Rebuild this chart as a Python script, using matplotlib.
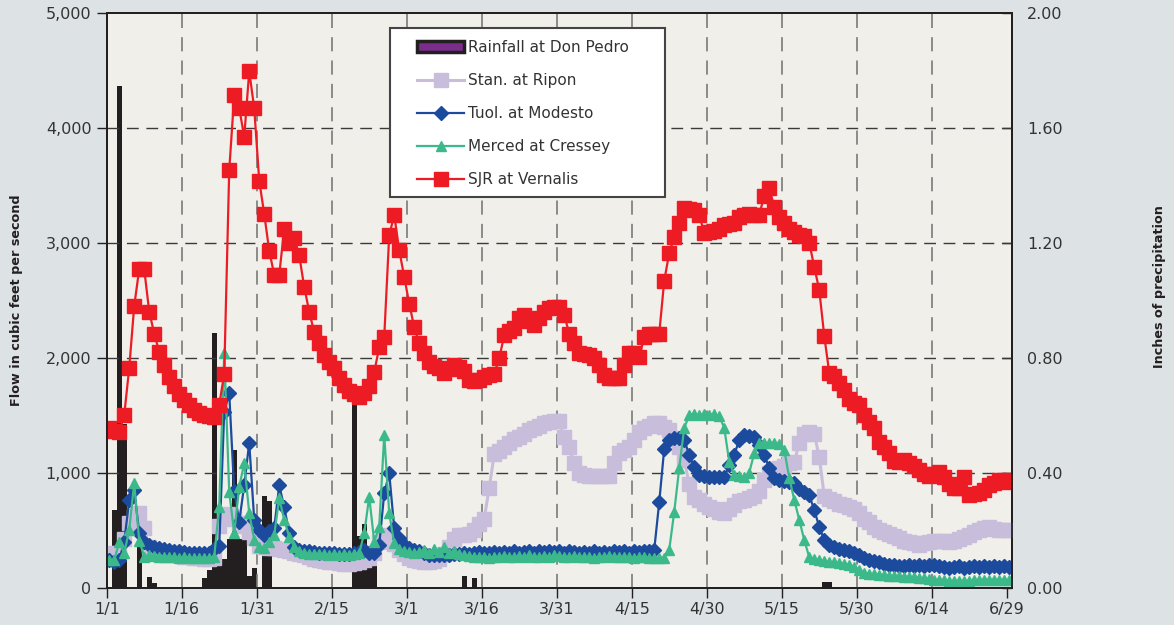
import numpy as np
import matplotlib
matplotlib.use("Agg")
import matplotlib.pyplot as plt
from matplotlib.patches import Patch, Rectangle
from matplotlib.lines import Line2D

# ---------------- data (daily, 1/1 .. 6/29) ----------------
tick_labels = ["1/1", "1/16", "1/31", "2/15", "3/1", "3/16", "3/31",
               "4/15", "4/30", "5/15", "5/30", "6/14", "6/29"]

rain = [0, 0.27, 1.745, 0.57, 0, 0, 0.14, 0, 0.037, 0.017,
        0, 0, 0, 0, 0, 0, 0, 0, 0, 0.034,
        0.06, 0.885, 0.08, 0.10, 0.17, 0.48, 0.17, 0.17, 0.04, 0.07,
        0, 0.32, 0.30, 0, 0, 0, 0, 0, 0, 0,
        0, 0, 0, 0, 0, 0, 0, 0, 0, 0.68,
        0.18, 0.22, 0.11, 0.11, 0, 0, 0, 0, 0, 0,
        0, 0, 0, 0, 0, 0, 0, 0, 0, 0,
        0, 0.04, 0, 0.033, 0, 0, 0, 0, 0, 0,
        0, 0, 0, 0, 0, 0, 0, 0, 0, 0,
        0, 0, 0, 0, 0, 0, 0, 0, 0, 0,
        0, 0, 0, 0, 0, 0, 0, 0, 0, 0,
        0, 0, 0, 0, 0, 0, 0, 0, 0, 0,
        0, 0, 0, 0, 0, 0, 0, 0, 0, 0,
        0, 0, 0, 0, 0, 0, 0, 0, 0, 0,
        0, 0, 0, 0.02, 0.02, 0, 0, 0, 0, 0,
        0, 0, 0, 0, 0, 0, 0, 0, 0, 0,
        0, 0, 0, 0, 0, 0, 0, 0, 0, 0,
        0, 0, 0, 0, 0, 0, 0, 0, 0, 0,
        0]

stan = [300, 280, 300, 420, 560, 620, 650, 520, 350, 330,
        320, 310, 300, 290, 280, 270, 265, 260, 255, 250,
        250, 260, 540, 620, 640, 600, 560, 540, 480, 430,
        360, 350, 345, 345, 340, 330, 320, 300, 290, 280,
        265, 250, 240, 230, 225, 220, 215, 210, 210, 215,
        225, 240, 260, 300, 400, 460, 430, 380, 330, 290,
        260, 240, 230, 225, 225, 230, 250, 290, 350, 420,
        460, 460, 470, 500, 550, 600, 870, 1160, 1190, 1220,
        1260, 1290, 1310, 1340, 1370, 1390, 1410, 1430, 1440, 1450,
        1450, 1310, 1220, 1080, 1000, 980, 970, 970, 970, 970,
        975, 1080, 1175, 1200, 1225, 1285, 1350, 1390, 1410, 1430,
        1430, 1400, 1370, 1300, 1225, 1110, 900, 790, 765, 730,
        700, 680, 660, 650, 680, 720, 750, 760, 780, 800,
        845, 935, 1000, 1020, 1040, 1060, 1080, 1090, 1260, 1340,
        1350, 1340, 1135, 800, 770, 750, 730, 720, 700, 680,
        650, 600, 570, 530, 500, 480, 470, 450, 430, 410,
        400, 390, 370, 390, 400, 410, 410, 410, 400, 410,
        420, 440, 460, 480, 500, 520, 525, 510, 500, 500,
        500]

tuol = [240, 220, 240, 400, 760, 850, 475, 400, 370, 355,
        345, 335, 330, 320, 315, 310, 305, 300, 300, 300,
        305, 340, 360, 1530, 1690, 840, 575, 890, 1260, 590,
        500, 460, 490, 520, 890, 700, 475, 355, 330, 320,
        315, 310, 305, 300, 300, 300, 295, 290, 290, 300,
        310, 328, 300, 300, 371, 821, 995, 517, 430, 370,
        345, 330, 320, 300, 285, 280, 280, 280, 285, 290,
        295, 300, 295, 300, 310, 300, 305, 310, 300, 310,
        305, 315, 305, 310, 320, 305, 315, 310, 320, 310,
        320, 305, 315, 310, 300, 310, 305, 315, 300, 310,
        305, 315, 310, 320, 305, 315, 310, 320, 320, 330,
        745, 1210, 1285, 1300, 1300, 1285, 1155, 1050, 980, 970,
        960, 960, 960, 960, 1065, 1155, 1285, 1330, 1320, 1310,
        1240, 1155, 1040, 955, 935, 930, 920, 910, 860, 830,
        805, 675, 530, 415, 370, 350, 340, 330, 320, 300,
        280, 260, 240, 230, 220, 210, 200, 195, 190, 190,
        195, 190, 200, 190, 195, 200, 190, 180, 175, 180,
        185, 175, 180, 185, 180, 185, 180, 185, 180, 185,
        180]

merced = [240, 240, 395, 300, 500, 910, 410, 270, 280, 275,
          270, 265, 270, 265, 260, 265, 260, 255, 260, 255,
          260, 270, 705, 2040, 835, 473, 878, 1082, 650, 415,
          357, 343, 400, 458, 777, 589, 443, 357, 320, 300,
          295, 290, 295, 290, 285, 290, 285, 290, 285, 290,
          300, 473, 791, 400, 530, 1328, 647, 386, 340, 320,
          310, 300, 310, 330, 300, 340, 310, 350, 300, 320,
          290, 280, 275, 270, 265, 270, 260, 270, 265, 275,
          270, 265, 275, 270, 280, 270, 265, 275, 270, 280,
          275, 270, 265, 275, 270, 265, 270, 260, 270, 265,
          275, 270, 265, 270, 265, 260, 270, 265, 260, 255,
          260, 260, 330, 660, 1040, 1390, 1500, 1510, 1500, 1510,
          1500, 1510, 1490, 1390, 1095, 980, 970, 960, 1000, 1170,
          1260, 1260, 1255, 1260, 1250, 1200, 955, 765, 590, 415,
          265, 250, 240, 230, 225, 220, 215, 210, 200, 180,
          150, 130, 120, 115, 110, 110, 105, 100, 100, 95,
          95, 90, 85, 80, 75, 70, 70, 65, 60, 60,
          60, 60, 60, 65, 70, 70, 70, 70, 70, 70,
          65]

sjr = [1390, 1360, 1350, 1500, 1910, 2450, 2770, 2770, 2400, 2210,
       2050, 1940, 1830, 1750, 1680, 1630, 1590, 1545, 1520, 1500,
       1490, 1480, 1590, 1860, 3630, 4280, 4170, 3920, 4490, 4170,
       3540, 3250, 2930, 2720, 2720, 3120, 3000, 3040, 2890, 2615,
       2400, 2220, 2125, 2020, 1960, 1910, 1820, 1765, 1710, 1680,
       1660, 1690, 1750, 1875, 2090, 2180, 3065, 3240, 2935, 2700,
       2470, 2265, 2125, 2040, 1960, 1930, 1910, 1865, 1900, 1935,
       1920, 1880, 1805, 1800, 1805, 1830, 1850, 1860, 1995, 2195,
       2230, 2260, 2345, 2370, 2320, 2280, 2345, 2400, 2430, 2440,
       2440, 2370, 2210, 2125, 2040, 2030, 2020, 1995, 1935, 1850,
       1820, 1820, 1820, 1935, 2040, 2040, 2005, 2180, 2210, 2210,
       2210, 2670, 2910, 3050, 3170, 3300, 3290, 3280, 3240, 3080,
       3090, 3100, 3120, 3150, 3160, 3170, 3220, 3240, 3250, 3240,
       3240, 3410, 3475, 3310, 3220, 3170, 3120, 3090, 3070, 3060,
       3000, 2790, 2590, 2190, 1870, 1840, 1780, 1720, 1640, 1610,
       1590, 1500, 1440, 1390, 1270, 1220, 1170, 1100, 1090, 1110,
       1085, 1060, 1020, 990, 970, 985, 1010, 960, 900, 870,
       870, 965, 810, 815, 820, 850, 890, 910, 940, 935,
       920]

# ---------------- styling ----------------
C_RED = "#ed1c24"
C_LAV = "#c9bddc"
C_BLUE = "#1c4a9c"
C_GREEN = "#3cb98b"
C_RAIN = "#231f20"
C_TXT = "#333333"

n = len(sjr)
x = np.arange(n) + 0.5          # category centres (Excel style)

W, H = 1174, 625
fig = plt.figure(figsize=(W / 100, H / 100), dpi=100)
fig.patch.set_facecolor("#dde2e5")

ax = fig.add_axes([0.0909, 0.0597, 0.7709, 0.92])
ax2 = ax.twinx()
ax.set_zorder(3)
ax.patch.set_visible(False)
ax2.patch.set_visible(True)
ax2.patch.set_facecolor("#f0efea")

# rainfall bars (right axis)
ax2.bar(x, rain, width=1.0, color=C_RAIN, linewidth=0)
ax2.set_ylim(0, 2.0)
ax2.set_yticks(np.arange(0, 2.01, 0.4))
ax2.set_yticklabels([f"{v:.2f}" for v in np.arange(0, 2.01, 0.4)])

# flow series (left axis)
ax.plot(x, stan, color=C_LAV, lw=2.2, marker="s", ms=9.5, mec=C_LAV, mfc=C_LAV)
ax.plot(x, tuol, color=C_BLUE, lw=1.6, marker="D", ms=7.0, mec=C_BLUE, mfc=C_BLUE)
ax.plot(x, merced, color=C_GREEN, lw=1.6, marker="^", ms=7.5, mec=C_GREEN, mfc=C_GREEN)
ax.plot(x, sjr, color=C_RED, lw=1.6, marker="s", ms=9.5, mec=C_RED, mfc=C_RED)

ax.set_xlim(0, n)
ax.set_ylim(0, 5000)
ax.set_yticks(np.arange(0, 5001, 1000))
ax.set_yticklabels([f"{v:,}" for v in range(0, 5001, 1000)])
ax.set_xticks(np.arange(0, n, 15))
ax.set_xticklabels(tick_labels)

# grid
for yv in range(1000, 5000, 1000):
    ax.axhline(yv, color="#3a3a3a", lw=1.0, ls=(0, (8.5, 5.5)), zorder=0.5)
for xv in np.arange(15, n - 1, 15):
    ax.axvline(xv, color="#7a7a7a", lw=1.2, ls=(0, (8.5, 5.5)), zorder=0.5)

for a in (ax, ax2):
    for s in a.spines.values():
        s.set_color("#231f20")
        s.set_linewidth(1.3)

ax.tick_params(axis="y", direction="out", length=7, width=1.0, color="#231f20",
               labelsize=11.5, labelcolor=C_TXT, pad=4)
ax.tick_params(axis="x", direction="out", length=7, width=1.0, color="#231f20",
               labelsize=11.5, labelcolor=C_TXT, pad=3)
ax2.tick_params(axis="y", direction="in", length=7, width=1.0, color="#231f20",
                labelsize=11.5, labelcolor=C_TXT, pad=11)

fig.text(17 / W, 1 - 300 / H, "Flow in cubic feet per second", rotation=90,
         ha="center", va="center", fontsize=9.2, fontweight="bold", color="#231f20")
fig.text(1160 / W, 1 - 287 / H, "Inches of precipitation", rotation=90,
         ha="center", va="center", fontsize=9.2, fontweight="bold", color="#231f20")

# legend: separate frame box + frameless legend inside it
frame = Rectangle((390 / W, 1 - 197 / H), 275 / W, 169 / H, transform=fig.transFigure,
                  facecolor="white", edgecolor="#444444", linewidth=1.5,
                  zorder=10, clip_on=False)
ax.add_patch(frame)

handles = [
    Patch(facecolor="#7b2d8b", edgecolor=C_RAIN, linewidth=2.5, label="Rainfall at Don Pedro"),
    Line2D([], [], color=C_LAV, lw=2.2, marker="s", ms=9.5, mec=C_LAV, label="Stan. at Ripon"),
    Line2D([], [], color=C_BLUE, lw=1.6, marker="D", ms=7.0, mec=C_BLUE, label="Tuol. at Modesto"),
    Line2D([], [], color=C_GREEN, lw=1.6, marker="^", ms=7.5, mec=C_GREEN, label="Merced at Cressey"),
    Line2D([], [], color=C_RED, lw=1.6, marker="s", ms=9.5, mec=C_RED, label="SJR at Vernalis"),
]
leg = ax.legend(handles=handles, loc="upper left",
                bbox_to_anchor=(417 / W, 1 - 40 / H), bbox_transform=fig.transFigure,
                borderaxespad=0, borderpad=0, fontsize=11, frameon=False,
                handlelength=3.1, handletextpad=0.25, labelspacing=1.18)
leg.set_zorder(11)
for t in leg.get_texts():
    t.set_color(C_TXT)

fig.savefig("out.png", dpi=100, facecolor=fig.get_facecolor())
